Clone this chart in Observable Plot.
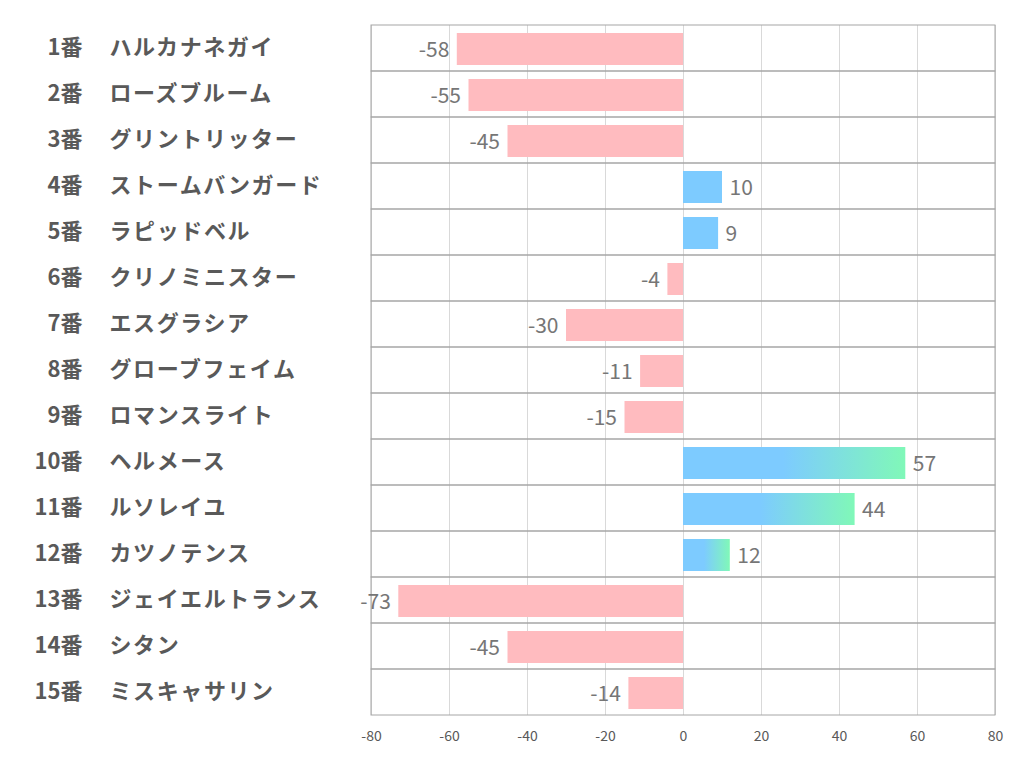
<!DOCTYPE html>
<html><head><meta charset="utf-8">
<script src="https://cdn.jsdelivr.net/npm/d3@7"></script>
<script src="https://cdn.jsdelivr.net/npm/@observablehq/plot@0.6"></script>
<style>
html,body{margin:0;padding:0;background:#fff;}
</style>
</head><body>
<div id="chart"></div>
<script>
const numbers = ["1番","2番","3番","4番","5番","6番","7番","8番","9番","10番","11番","12番","13番","14番","15番"];
const names = ["ハルカナネガイ","ローズブルーム","グリントリッター","ストームバンガード","ラピッドベル","クリノミニスター","エスグラシア","グローブフェイム","ロマンスライト","ヘルメース","ルソレイユ","カツノテンス","ジェイエルトランス","シタン","ミスキャサリン"];
const values = [-58,-55,-45,10,9,-4,-30,-11,-15,57,44,12,-73,-45,-14];
const xTicks = [-80,-60,-40,-20,0,20,40,60,80];

const data = numbers.map((n,i)=>({num:n, name:names[i], v:values[i]}));
const neg = data.filter(d => d.v < 0);
const pos = data.filter(d => d.v >= 0);
const font = "'Noto Sans CJK JP', sans-serif";

const plot = Plot.plot({
  width: 1022, height: 782,
  marginLeft: 371, marginRight: 27, marginTop: 25, marginBottom: 67,
  style: {fontFamily: font, background: "#fff"},
  x: {domain: [-80, 80], ticks: xTicks, label: null},
  y: {domain: numbers, padding: 0, axis: null},
  color: {type: "identity"},
  marks: [
    Plot.ruleX(xTicks, {stroke: "#d9d9d9", strokeWidth: 1}),
    Plot.barX(data, {y: "num", x1: -80, x2: 80, fill: "none", stroke: "#a6a6a6", strokeWidth: 1}),
    Plot.barX(data, {y: "num", x: "v", insetTop: 8, insetBottom: 6,
      fill: d => d.v < 0 ? "#ffbbbf" : (d.v > 10 ? "url(#gradBar)" : "#7dcbff")}),
    Plot.text(neg, {y: "num", x: "v", text: d => String(d.v), textAnchor: "end", dx: -8, dy: 2,
      fill: "#767676", fontSize: 21}),
    Plot.text(pos, {y: "num", x: "v", text: d => String(d.v), textAnchor: "start", dx: 7, dy: 2,
      fill: "#767676", fontSize: 21}),
    Plot.text(data, {y: "num", text: "num", frameAnchor: "left", textAnchor: "end", dx: -289, dy: -1,
      fill: "#595959", fontSize: 22, fontWeight: "bold"}),
    Plot.text(data, {y: "num", text: "name", frameAnchor: "left", textAnchor: "start", dx: -262, dy: -1,
      fill: "#595959", fontSize: 22, fontWeight: "bold"}),
    Plot.axisX({ticks: xTicks, tickSize: 0, tickPadding: 16, fontSize: 14, fill: "#595959", label: null, tickFormat: d => String(d)})
  ]
});

const svgNS = "http://www.w3.org/2000/svg";
const defs = document.createElementNS(svgNS, "defs");
defs.innerHTML = '<linearGradient id="gradBar" x1="0" y1="0" x2="1" y2="0">' +
  '<stop offset="0" stop-color="#7dcbff"/><stop offset="0.45" stop-color="#7dcbff"/>' +
  '<stop offset="1" stop-color="#80f8b8"/></linearGradient>';
plot.insertBefore(defs, plot.firstChild);
const nameSet = new Set(names);
plot.querySelectorAll("text").forEach(t => {
  if (nameSet.has(t.textContent)) t.style.letterSpacing = "1.6px";
});
document.getElementById("chart").appendChild(plot);
</script>
</body></html>
